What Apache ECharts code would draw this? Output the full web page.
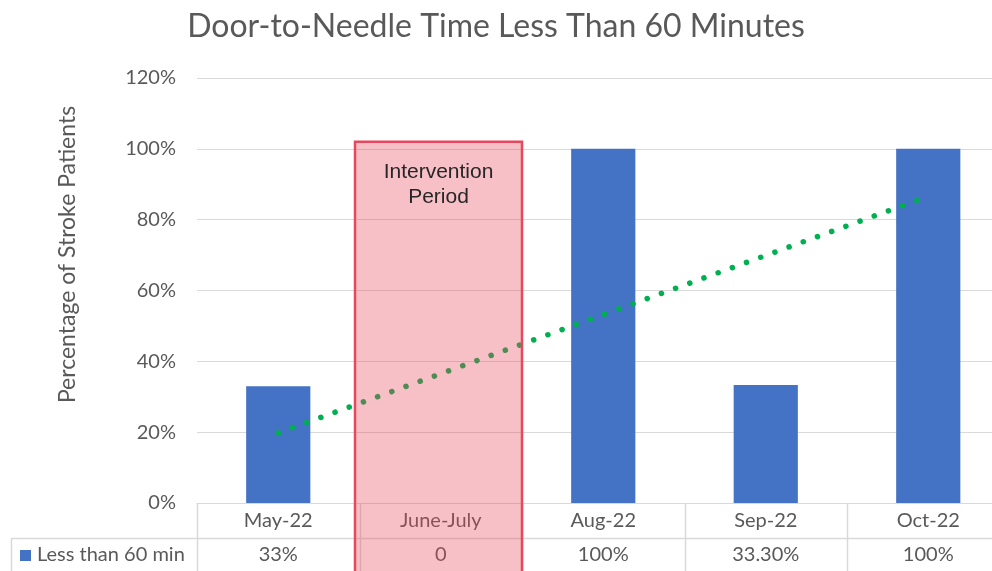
<!DOCTYPE html>
<html><head><meta charset="utf-8">
<script src="https://cdn.jsdelivr.net/npm/echarts@6/dist/echarts.min.js"></script>
<style>html,body{margin:0;padding:0;background:#fff}#c{width:992px;height:571px}</style>
</head><body><div id="c"></div>
<script>
const categories = ['May-22', 'June-July', 'Aug-22', 'Sep-22', 'Oct-22'];
const values = [0.33, 0, 1.0, 0.333, 1.0];
const tableLabels = ['33%', '0', '100%', '33.30%', '100%'];
const seriesName = 'Less than 60 min';
const trendValues = [0.198, null, null, null, 0.866];
const interventionCategory = 'June-July';
const interventionTop = 1.02;
const interventionText = 'Intervention\nPeriod';
const titleText = 'Door-to-Needle Time Less Than 60 Minutes';
const yAxisName = 'Percentage of Stroke Patients';

const FONT = 'Lato';
const GREY = '#595959';
const LINE = '#D9D9D9';

const chart = echarts.init(document.getElementById('c'), null, {renderer: 'canvas'});
chart.setOption({
  animation: false,
  backgroundColor: '#fff',
  title: {
    text: titleText, left: 'center', top: 6, padding: [5, 0, 5, 26],
    textStyle: {fontFamily: FONT, fontSize: 32, fontWeight: 'normal', color: GREY}
  },
  grid: {left: 197, top: 78, width: 812.5, bottom: 68, containLabel: false, outerBoundsMode: 'none'},
  xAxis: {
    type: 'category', data: categories,
    axisLine: {show: true, lineStyle: {color: LINE, width: 1}},
    axisTick: {show: false},
    axisLabel: {fontFamily: FONT, fontSize: 20, color: GREY, margin: 8}
  },
  yAxis: {
    type: 'value', min: 0, max: 1.2, interval: 0.2,
    name: yAxisName, nameLocation: 'middle', nameGap: 118,
    nameTextStyle: {fontFamily: FONT, fontSize: 23, color: GREY, padding: [0, 0, 0, 72]},
    axisLine: {show: false}, axisTick: {show: false},
    axisLabel: {fontFamily: FONT, fontSize: 20, color: GREY, margin: 21,
      formatter: v => Math.round(v * 100) + '%'},
    splitLine: {lineStyle: {color: LINE, width: 1}}
  },
  series: [
    {
      name: seriesName, type: 'bar', data: values, barWidth: '39.5%',
      itemStyle: {color: '#4472C4'}, z: 2
    },
    {
      name: 'trend', type: 'line', data: trendValues, connectNulls: true,
      showSymbol: false, symbol: 'none', z: 3,
      lineStyle: {color: '#00B050', width: 5.5, type: [0.1, 15], cap: 'round'}
    }
  ]
});

const H = 571, W = 992;
const xc = i => chart.convertToPixel({xAxisIndex: 0}, i);
const yv = v => chart.convertToPixel({yAxisIndex: 0}, v);
const band = xc(1) - xc(0);
const y0 = yv(0);
const rowSplit = y0 + 35.5;
const g = [];
g.push({type: 'line', z: 5, shape: {x1: 11, y1: rowSplit, x2: W, y2: rowSplit}, style: {stroke: LINE, lineWidth: 1.5}});
g.push({type: 'line', z: 5, shape: {x1: 11.5, y1: rowSplit, x2: 11.5, y2: H}, style: {stroke: LINE, lineWidth: 1.5}});
for (let i = 0; i <= categories.length; i++) {
  const x = Math.round(xc(0) - band / 2 + i * band) + 0.5;
  g.push({type: 'line', z: 5, shape: {x1: x, y1: y0, x2: x, y2: H}, style: {stroke: LINE, lineWidth: 1.5}});
}
g.push({type: 'rect', z: 5, shape: {x: 20, y: 550, width: 11, height: 11}, style: {fill: '#4472C4'}});
g.push({type: 'text', z: 5, x: 37, y: rowSplit + 16, style: {text: seriesName, fontFamily: FONT, fontSize: 20, fill: GREY, verticalAlign: 'middle', align: 'left'}});
categories.forEach((c, i) => {
  g.push({type: 'text', z: 5, x: xc(i), y: rowSplit + 16, style: {text: tableLabels[i], fontFamily: FONT, fontSize: 20, fill: GREY, verticalAlign: 'middle', align: 'center'}});
});
const ii = categories.indexOf(interventionCategory);
const bx1 = xc(ii) - band / 2 - 4.5, bx2 = xc(ii) + band / 2;
const by = yv(interventionTop);
g.push({type: 'rect', z: 20, shape: {x: bx1, y: by, width: bx2 - bx1, height: H - by + 5},
  style: {fill: 'rgba(232,70,90,0.34)', stroke: '#E8485C', lineWidth: 2.5}});
g.push({type: 'text', z: 21, x: (bx1 + bx2) / 2, y: by + 18, style: {text: interventionText, fontFamily: 'Liberation Sans', fontSize: 21, lineHeight: 25, fill: '#262626', align: 'center', verticalAlign: 'top'}});
chart.setOption({graphic: {elements: g}});
</script></body></html>
